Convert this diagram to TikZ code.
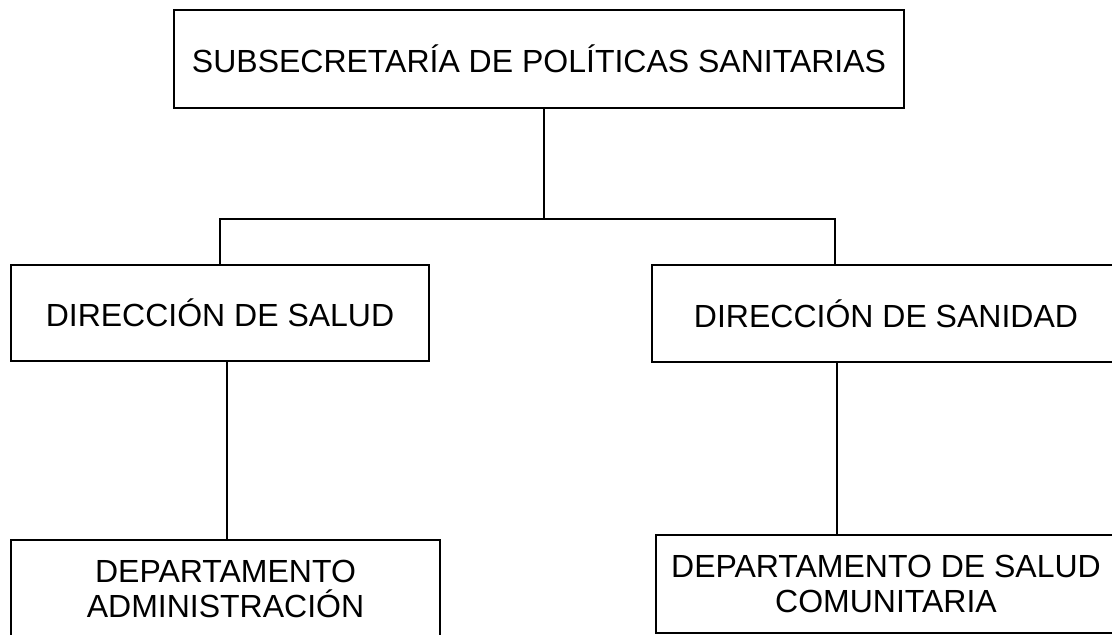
\documentclass[tikz,border=0pt]{standalone}
\usepackage{fontspec}
\setmainfont{Liberation Sans}
\begin{document}
\begin{tikzpicture}[x=1pt,y=-1pt,
  orgbox/.style={draw=black, line width=1.6pt, fill=white, inner sep=0pt,
    align=center, font=\fontsize{32}{35}\selectfont},
  conn/.style={draw=black, line width=1.6pt}]
\useasboundingbox (0,0) rectangle (1112,635);
\clip (0,0) rectangle (1112,635);
\fill[white] (0,0) rectangle (1112,635);

\node[orgbox, minimum width=730pt, minimum height=98pt] (top) at (539,59)
  {SUBSECRETARÍA DE POLÍTICAS SANITARIAS};
\node[orgbox, minimum width=418pt, minimum height=96pt] (salud) at (220,313)
  {DIRECCIÓN DE SALUD};
\node[orgbox, minimum width=468pt, minimum height=97pt] (sanidad) at (886,313.5)
  {DIRECCIÓN DE SANIDAD};
\node[orgbox, minimum width=429pt, minimum height=97pt] (depadm) at (225.5,588.5)
  {DEPARTAMENTO\\ADMINISTRACIÓN};
\node[orgbox, minimum width=460pt, minimum height=98pt] (depsal) at (886,584)
  {DEPARTAMENTO DE SALUD\\COMUNITARIA};

\coordinate (bus) at (544,219);
\coordinate (jr) at (835,265);
\coordinate (sL) at (227,361);
\coordinate (sR) at (837,362);

\draw[conn] (top.south -| bus) -- (bus);
\draw[conn] (salud.north) |- (bus) -| (jr);
\draw[conn] (sL) -- (sL |- depadm.north);
\draw[conn] (sR) -- (sR |- depsal.north);
\end{tikzpicture}
\end{document}
